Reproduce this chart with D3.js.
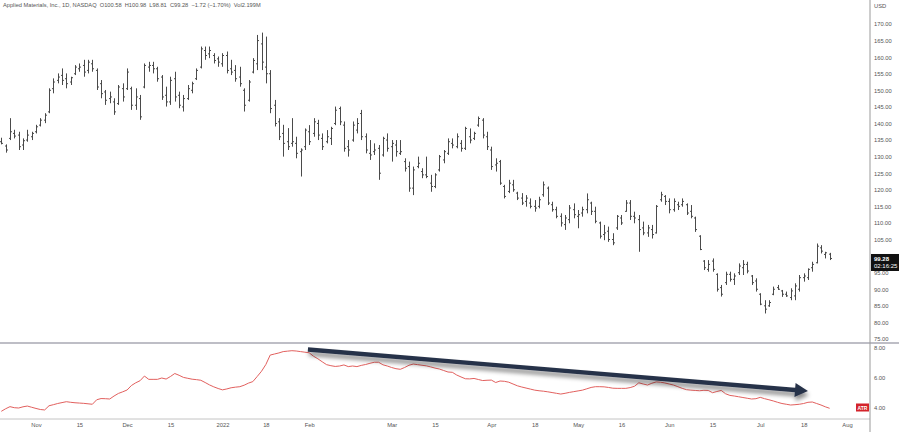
<!DOCTYPE html>
<html>
<head>
<script src="https://d3js.org/d3.v7.min.js"></script>
<style>
  body { margin: 0; background: #fff; }
  svg text { font-family: "Liberation Sans", Arial, sans-serif; }
</style>
</head>
<body>
<svg width="899" height="432"></svg>
<script>
// daily bars, Oct 20 2021 .. Jul 26 2022 (bar index 0..191)
const opens = [
  134.5,133.2,135.5,137.0,136.5,133.5,135.0,136.0,137.5,139.5,
  141.0,143.5,150.5,153.0,154.5,153.5,152.5,155.0,156.5,157.5,
  156.0,158.0,156.0,152.0,149.5,147.5,146.5,146.0,150.5,150.5,
  150.5,145.5,147.5,151.0,157.0,157.5,156.5,154.0,148.5,146.5,
  153.5,148.5,145.0,147.5,150.0,153.5,157.0,162.0,161.0,160.5,
  159.5,158.0,160.5,156.5,156.0,154.0,150.0,147.0,155.5,158.0,
  164.0,157.0,155.0,145.5,140.5,137.0,134.5,134.0,134.0,131.5,
  133.0,137.5,137.0,140.0,135.5,134.5,135.5,140.0,144.5,139.5,
  133.0,135.0,138.0,143.0,136.0,131.0,131.5,132.5,130.5,135.0,
  133.0,133.5,131.0,128.5,127.0,120.5,127.0,125.5,124.5,122.0,
  121.0,126.0,129.0,131.0,134.0,133.0,134.0,132.5,136.0,135.5,
  139.5,141.0,136.0,132.0,127.5,128.5,121.0,119.5,121.5,119.0,
  117.5,116.5,116.0,115.0,115.0,118.5,120.5,115.5,114.0,112.0,
  109.5,111.0,114.0,112.0,113.0,114.0,116.0,113.5,110.0,106.5,
  107.5,105.0,108.5,111.5,113.5,116.0,112.0,111.0,108.5,107.0,
  108.0,107.0,117.0,118.0,116.5,114.0,115.5,115.5,115.5,113.5,
  111.5,106.0,98.5,96.0,98.5,94.5,90.5,92.0,94.5,93.0,
  95.0,96.5,97.5,94.0,92.5,88.5,85.0,85.0,88.5,90.5,
  89.5,88.5,87.5,88.0,90.0,93.5,93.5,96.5,98.0,102.5,
  100.5,100.58
];
const highs = [
  135.7,133.7,141.6,138.1,137.5,135.5,138.1,137.5,139.6,141.6,
  143.1,150.6,153.6,155.1,156.6,155.1,154.1,157.6,158.1,159.2,
  159.2,159.2,156.6,153.1,150.1,149.6,147.6,151.6,152.1,156.6,
  151.1,150.6,148.6,158.1,158.6,158.6,157.1,154.6,151.1,154.1,
  155.6,149.6,148.6,151.6,152.6,156.6,163.2,163.2,163.2,161.2,
  160.2,161.2,161.7,159.2,157.6,157.1,150.6,153.1,159.7,166.7,
  167.4,166.2,156.1,147.1,141.6,139.6,138.6,141.6,136.0,132.5,
  138.5,139.5,141.6,141.1,137.0,138.0,139.0,145.1,145.1,140.6,
  135.0,140.6,141.6,144.1,137.0,135.0,134.0,133.5,136.0,137.0,
  135.0,135.0,135.0,129.5,128.5,127.0,130.0,126.5,130.0,124.5,
  125.0,130.5,132.0,135.5,135.5,137.0,135.0,139.0,138.5,137.5,
  142.1,141.6,137.5,133.0,129.5,129.0,121.5,123.0,123.0,119.4,
  119.0,118.4,117.4,116.9,117.9,122.5,121.0,116.4,114.9,112.9,
  112.4,115.4,115.9,113.9,114.9,118.9,116.4,114.9,110.4,109.4,
  108.9,106.9,112.4,112.4,116.9,116.9,113.4,112.4,110.4,109.4,
  109.4,115.4,119.4,118.4,117.4,117.4,116.4,117.4,115.9,115.4,
  111.9,106.3,98.8,98.8,99.3,94.8,91.3,95.3,95.3,94.8,
  97.8,98.8,98.3,94.3,93.3,88.8,86.7,86.7,90.8,91.3,
  89.8,89.3,90.3,91.8,94.3,94.8,96.3,98.3,103.8,103.3,
  101.3,100.98
];
const lows = [
  133.7,131.2,135.0,135.5,132.0,132.0,134.5,135.0,137.0,139.1,
  140.1,143.1,149.1,152.1,151.6,150.6,151.6,154.6,155.6,154.1,
  155.1,155.6,150.1,147.6,145.6,146.1,142.6,145.6,146.6,150.1,
  144.1,144.1,141.1,150.6,155.6,155.1,152.6,147.1,145.1,145.6,
  146.6,144.6,143.6,147.1,149.1,153.1,156.6,159.2,159.7,158.1,
  157.1,157.1,155.1,154.6,152.6,151.1,143.6,146.6,155.1,156.1,
  156.1,152.1,143.1,139.1,135.0,130.0,132.0,133.0,129.5,124.0,
  132.0,133.5,136.0,135.0,132.0,134.0,133.5,139.5,139.5,131.5,
  130.0,134.5,137.0,135.0,131.0,129.0,130.5,123.0,130.0,131.5,
  128.5,130.0,130.5,125.5,119.4,118.4,126.5,123.5,123.5,119.4,
  120.5,125.5,128.0,130.5,132.5,132.5,131.5,132.0,134.0,135.0,
  139.0,135.5,132.0,126.0,125.5,121.5,117.4,119.0,119.4,116.9,
  115.4,114.9,114.4,113.4,114.4,117.9,115.4,113.4,111.4,108.9,
  107.9,109.9,111.4,108.4,111.9,112.9,112.4,109.9,105.3,104.8,
  104.3,103.3,107.9,109.4,113.4,110.9,109.9,101.3,106.3,105.8,
  105.3,106.8,116.4,115.4,112.9,113.4,113.9,114.9,112.4,111.4,
  107.3,101.8,95.8,95.3,95.3,89.3,87.8,91.3,92.3,91.3,
  94.3,94.3,94.8,91.3,89.3,85.2,82.7,84.7,88.2,89.8,
  87.7,87.7,86.7,86.7,89.3,92.3,92.8,95.3,97.8,100.8,
  99.3,98.81
];
const closes = [
  134.0,132.0,137.5,136.2,133.0,134.8,136.5,137.0,139.0,141.0,
  142.5,150.0,152.5,154.0,153.0,152.0,153.8,157.0,157.0,155.5,
  158.5,156.5,151.0,149.0,147.0,148.0,143.5,151.0,148.0,155.5,
  145.5,148.0,142.0,157.5,157.5,156.5,153.5,148.0,146.5,153.0,
  148.0,145.5,147.5,150.5,152.0,156.0,162.5,160.5,162.0,159.0,
  158.5,160.5,156.0,155.5,153.5,152.0,145.5,152.5,159.0,165.0,
  158.5,155.0,144.5,140.0,136.0,134.0,133.0,134.5,131.0,132.0,
  138.0,134.5,140.5,136.5,133.0,136.0,138.5,144.0,140.5,132.5,
  132.0,139.5,140.0,136.0,132.0,130.5,132.0,125.0,135.5,132.5,
  134.0,131.5,131.5,126.5,120.5,126.0,128.0,124.5,124.0,121.0,
  124.5,130.0,131.5,134.5,133.5,136.0,132.5,138.5,135.0,137.0,
  141.5,136.5,133.0,127.0,128.0,122.0,118.0,122.0,120.0,117.5,
  116.0,117.5,115.0,114.5,117.0,121.5,116.0,114.0,112.0,110.0,
  111.5,114.5,112.5,112.5,114.0,117.0,113.5,110.5,106.0,107.0,
  105.0,104.0,112.0,110.0,116.0,112.0,111.5,108.0,107.0,108.5,
  106.5,115.0,118.5,116.5,114.0,116.5,115.0,116.5,113.0,112.0,
  108.0,102.0,96.5,97.5,96.0,90.0,88.5,94.5,93.0,94.0,
  97.0,97.5,95.5,92.0,90.0,85.5,84.0,86.0,90.0,90.0,
  88.5,88.0,89.5,91.0,93.5,94.0,96.0,97.5,103.0,101.5,
  101.0,99.28
];
const atr = [
  3.78,3.95,4.09,4.02,4.00,4.08,4.13,4.05,3.97,3.90,
  3.87,4.15,4.22,4.30,4.36,4.42,4.38,4.35,4.33,4.31,
  4.28,4.25,4.55,4.63,4.62,4.60,4.80,4.97,5.08,5.20,
  5.50,5.68,5.82,6.13,5.91,5.91,5.91,6.00,5.93,6.10,
  6.30,6.18,6.04,5.98,5.92,5.89,5.85,5.70,5.54,5.41,
  5.30,5.21,5.27,5.35,5.39,5.42,5.52,5.66,5.76,6.10,
  6.45,6.90,7.53,7.60,7.67,7.76,7.79,7.82,7.80,7.76,
  7.72,7.68,7.45,7.28,7.08,6.89,6.82,6.77,6.80,6.87,
  6.76,6.80,6.76,6.84,6.90,6.98,7.05,7.05,6.88,6.80,
  6.70,6.62,6.58,6.70,6.85,6.93,6.89,6.85,6.81,6.74,
  6.66,6.60,6.50,6.40,6.38,6.20,6.07,5.95,5.94,5.97,
  5.90,5.83,5.85,5.86,5.70,5.80,5.78,5.72,5.60,5.48,
  5.40,5.33,5.26,5.19,5.15,5.12,5.08,5.03,4.98,4.93,
  4.98,5.04,5.09,5.14,5.19,5.28,5.37,5.42,5.42,5.41,
  5.37,5.32,5.31,5.31,5.31,5.36,5.45,5.68,5.60,5.53,
  5.65,5.74,5.72,5.67,5.60,5.53,5.42,5.31,5.22,5.19,
  5.17,5.15,5.18,5.17,5.02,5.10,5.17,4.95,4.84,4.80,
  4.75,4.70,4.65,4.60,4.62,4.71,4.62,4.55,4.47,4.38,
  4.30,4.25,4.20,4.22,4.25,4.30,4.38,4.40,4.30,4.20,
  4.08,3.98
];

const tickLabels = ["Nov","15","Dec","15","2022","18","Feb","Mar","15","Apr","18","May","16","Jun","15","Jul","18","Aug"];
const tickBars   = [8, 18, 29, 39, 51, 61, 71, 90, 100, 113, 123, 133, 143, 154, 164, 175, 185, 195];

// 100.00 sits under the last-price label, so it is not drawn
const priceTicks = d3.range(75, 171, 5).filter(v => v !== 100);
const atrTicks = [4, 6, 8];

const title = "Applied Materials, Inc., 1D, NASDAQ  O100.58  H100.98  L98.81  C99.28  \u22121.72 (\u22121.70%)  Vol2.199M";
const lastPrice = 99.28, countdown = "02:16:25";

// trend annotation on the ATR pane (bar index, atr value)
const arrowFrom = { bar: 70.7, value: 7.9 };
const arrowTo   = { bar: 186,  value: 5.13 };

const svg = d3.select("svg");
const W = 899, H = 432, axisX = 870, sepY = 343, baseY = 419;

const x = d3.scaleLinear().domain([0, 195]).range([1.3, 847]);
const y = d3.scaleLinear().domain([75, 170]).range([339, 24]);
const ya = d3.scaleLinear().domain([4, 8]).range([408, 348]);

const labelColor = "#555";

// frame lines
svg.append("line").attr("x1", 0).attr("x2", W).attr("y1", sepY).attr("y2", sepY)
  .attr("stroke", "#a9a9b3").attr("stroke-width", 1.3);
svg.append("line").attr("x1", 0).attr("x2", axisX).attr("y1", baseY).attr("y2", baseY)
  .attr("stroke", "#c4c4c4").attr("stroke-width", 1);
svg.append("line").attr("x1", axisX).attr("x2", axisX).attr("y1", 0).attr("y2", H)
  .attr("stroke", "#9a9a9a").attr("stroke-width", 1);

// OHLC bars
const bars = svg.append("g").attr("stroke", "#4a4a4a").attr("stroke-width", 1);
const idx = d3.range(opens.length);
bars.selectAll("path").data(idx).enter().append("path")
  .attr("fill", "none")
  .attr("d", i => {
    const cx = Math.round(x(i)) + 0.5;
    return `M${cx},${y(highs[i])}V${y(lows[i])}` +
           `M${cx - 1.5},${y(opens[i])}H${cx}` +
           `M${cx},${y(closes[i])}H${cx + 1.5}`;
  });

// price axis
const pAxis = svg.append("g").attr("transform", `translate(${axisX},0)`)
  .call(d3.axisRight(y).tickValues(priceTicks).tickFormat(d3.format(".2f")).tickSize(0).tickPadding(4));
pAxis.select(".domain").remove();
pAxis.selectAll("text").attr("font-size", 5.8).attr("fill", labelColor)
  .attr("font-family", "Liberation Sans, Arial, sans-serif");

svg.append("text").attr("x", axisX + 4).attr("y", 8).text("USD")
  .attr("font-size", 5.8).attr("fill", labelColor);

// last price label
const ly = y(lastPrice);
svg.append("rect").attr("x", axisX + 1).attr("y", ly - 4.5).attr("width", W - axisX - 1).attr("height", 17)
  .attr("fill", "#111");
svg.append("text").attr("x", axisX + 4).attr("y", ly + 2.2).text(d3.format(".2f")(lastPrice))
  .attr("font-size", 6).attr("font-weight", "bold").attr("fill", "#fff");
svg.append("text").attr("x", axisX + 4).attr("y", ly + 9.8).text(countdown)
  .attr("font-size", 6).attr("fill", "#fff");

// ATR pane
const atrLine = d3.line().x((d, i) => x(i)).y(d => ya(d)).curve(d3.curveLinear);
svg.append("path").datum(atr).attr("d", atrLine)
  .attr("fill", "none").attr("stroke", "#e2605e").attr("stroke-width", 1);

const aAxis = svg.append("g").attr("transform", `translate(${axisX},0)`)
  .call(d3.axisRight(ya).tickValues(atrTicks).tickFormat(d3.format(".2f")).tickSize(0).tickPadding(4));
aAxis.select(".domain").remove();
aAxis.selectAll("text").attr("font-size", 5.8).attr("fill", labelColor)
  .attr("font-family", "Liberation Sans, Arial, sans-serif");

svg.append("rect").attr("x", 856).attr("y", 403.5).attr("width", 13).attr("height", 8).attr("fill", "#d3232a");
svg.append("text").attr("x", 862.5).attr("y", 409.6).attr("text-anchor", "middle").text("ATR")
  .attr("font-size", 5).attr("font-weight", "bold").attr("fill", "#fff");

// arrow annotation
const defs = svg.append("defs");
const f = defs.append("filter").attr("id", "shadow").attr("x", "-5%").attr("y", "-50%")
  .attr("width", "110%").attr("height", "300%");
f.append("feDropShadow").attr("dx", 1).attr("dy", 4).attr("stdDeviation", 2.2)
  .attr("flood-color", "#000").attr("flood-opacity", 0.45);

const p0 = [x(arrowFrom.bar), ya(arrowFrom.value)];
const p1 = [x(arrowTo.bar), ya(arrowTo.value)];
const len = Math.hypot(p1[0] - p0[0], p1[1] - p0[1]);
const u = [(p1[0] - p0[0]) / len, (p1[1] - p0[1]) / len];
const n = [-u[1], u[0]];
const hw = 2.2, headLen = 13, headHW = 7;
const base = [p1[0] - u[0] * headLen, p1[1] - u[1] * headLen];
const pt = (p, k) => [p[0] + n[0] * k, p[1] + n[1] * k];
const poly = [pt(p0, -hw), pt(base, -hw), pt(base, -headHW), p1, pt(base, headHW), pt(base, hw), pt(p0, hw)];
svg.append("path").attr("d", "M" + poly.map(p => p.join(",")).join("L") + "Z")
  .attr("fill", "#283349").attr("filter", "url(#shadow)");

// time axis
const xAxis = svg.append("g").attr("transform", `translate(0,${baseY})`)
  .call(d3.axisBottom(x).tickValues(tickBars).tickFormat((d, i) => tickLabels[i]).tickSize(0).tickPadding(3.5));
xAxis.select(".domain").remove();
xAxis.selectAll("text").attr("font-size", 5.8).attr("fill", labelColor)
  .attr("font-family", "Liberation Sans, Arial, sans-serif");

// title
svg.append("text").attr("x", 3).attr("y", 7).text(title).attr("xml:space", "preserve")
  .style("white-space", "pre")
  .attr("font-size", 5.7).attr("fill", "#555");
</script>
</body>
</html>
